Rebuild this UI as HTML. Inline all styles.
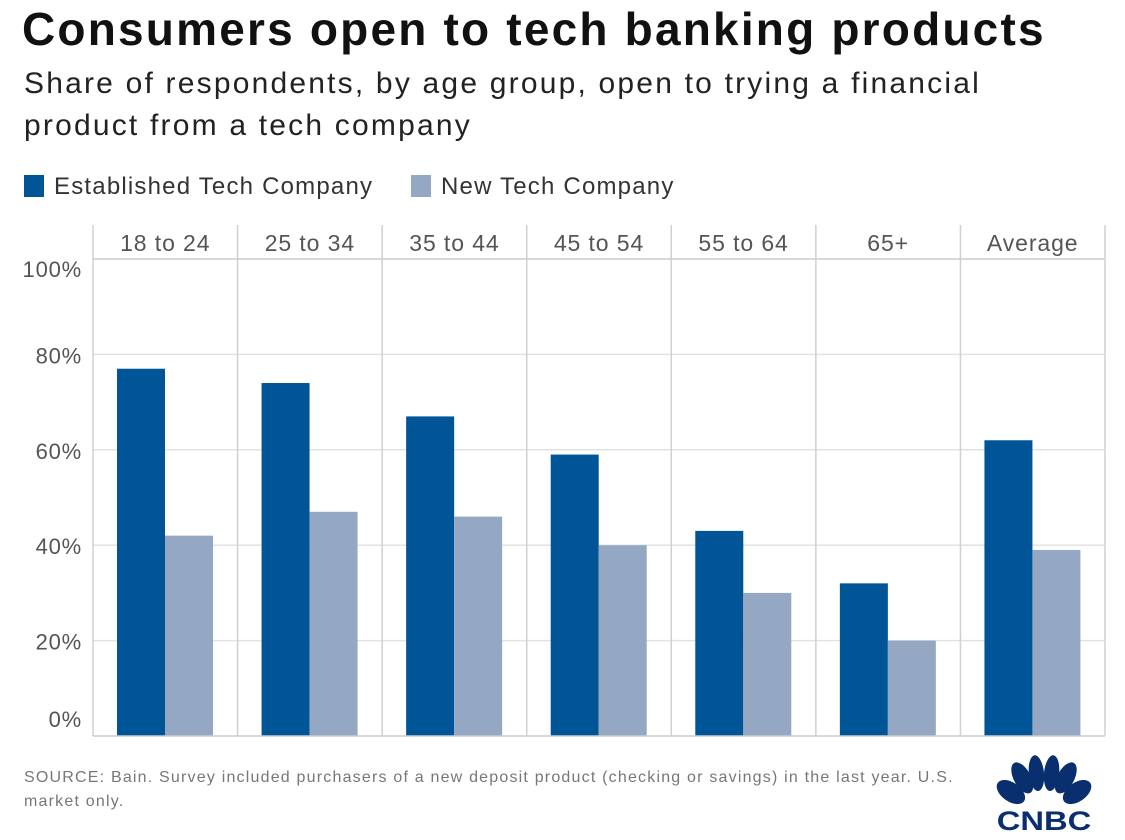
<!DOCTYPE html>
<html><head><meta charset="utf-8"><style>
body{margin:0;width:1125px;height:840px;background:#fff;font-family:"Liberation Sans",sans-serif;overflow:hidden;position:relative}
.t{position:absolute;white-space:nowrap}
</style></head><body>
<div class="t" style="left:22px;top:2px;font-size:46px;font-weight:bold;color:#111;letter-spacing:2.2px">Consumers open to tech banking products</div>
<div class="t" style="left:24px;top:63px;font-size:30px;color:#222;line-height:42px;letter-spacing:2.2px">Share of respondents, by age group, open to trying a financial<br>product from a tech company</div>
<div>
<div class="t" style="left:24px;top:173px;font-size:24px;color:#333;letter-spacing:1.2px"><span style="display:inline-block;width:20px;height:22px;background:#005596;vertical-align:-3px;margin-right:10px"></span>Established Tech Company</div>
<div class="t" style="left:411px;top:173px;font-size:24px;color:#333;letter-spacing:1.2px"><span style="display:inline-block;width:20px;height:22px;background:#94a8c4;vertical-align:-3px;margin-right:10px"></span>New Tech Company</div>
</div>
<svg id="chart" width="1125" height="840" style="position:absolute;left:0;top:0"></svg>
<div class="t" style="left:24px;top:766px;font-size:16px;color:#777;line-height:24px;letter-spacing:1.2px">SOURCE: Bain. Survey included purchasers of a new deposit product (checking or savings) in the last year. U.S.<br>market only.</div>
<svg width="104" height="82" style="position:absolute;left:992px;top:752px" viewBox="0 0 110 86">
<g fill="#0a2f6e">
<ellipse cx="20" cy="42" rx="17" ry="10" transform="rotate(35 20 42)"/>
<ellipse cx="32" cy="27" rx="18" ry="9" transform="rotate(62 32 27)"/>
<ellipse cx="47" cy="22" rx="19" ry="8" transform="rotate(84 47 22)"/>
<ellipse cx="63" cy="22" rx="19" ry="8" transform="rotate(96 63 22)"/>
<ellipse cx="78" cy="27" rx="18" ry="9" transform="rotate(118 78 27)"/>
<ellipse cx="90" cy="42" rx="17" ry="10" transform="rotate(145 90 42)"/>
</g>
<text x="55" y="82" text-anchor="middle" font-family="Liberation Sans" font-weight="bold" font-size="28" fill="#0a2f6e" textLength="100" lengthAdjust="spacingAndGlyphs">CNBC</text>
</svg>
<script>
const categories=["18 to 24","25 to 34","35 to 44","45 to 54","55 to 64","65+","Average"];
const established=[77,74,67,59,43,32,62];
const newTech=[42,47,46,40,30,20,39];
const yTicks=[0,20,40,60,80,100];
const svgEl=document.getElementById('chart');
const NS="http://www.w3.org/2000/svg";
const plotX0=93,plotX1=1105,headTop=225,plotY0=736,plotY100=259;
const colW=(plotX1-plotX0)/categories.length;
const yScale=v=>plotY0-(plotY0-plotY100)*v/100;
function mk(t,a){const e=document.createElementNS(NS,t);for(const k in a)e.setAttribute(k,a[k]);svgEl.appendChild(e);return e;}
yTicks.forEach(v=>{
 if(v>0&&v<100){const l=mk('line',{x1:plotX0,x2:plotX1,y1:yScale(v),y2:yScale(v),stroke:'#e2e2e2','stroke-width':1.5});
 
 }
 const off=v===100?18:(v===0?-9:9);
 const t=mk('text',{x:82,y:yScale(v)+off,'text-anchor':'end','font-size':22,fill:'#555','font-family':'Liberation Sans','letter-spacing':'0.8'});
 t.textContent=v+'%';
 
 
});
const hl=mk('line',{x1:plotX0,x2:plotX1,y1:plotY100,y2:plotY100,stroke:'#ccc','stroke-width':1.5});


categories.forEach((c,i)=>{
 const cx=plotX0+i*colW;
 const b1=mk('rect',{x:cx+24,y:yScale(established[i]),width:48,height:plotY0-yScale(established[i]),fill:'#005596'});
 
 
 const b2=mk('rect',{x:cx+72,y:yScale(newTech[i]),width:48,height:plotY0-yScale(newTech[i]),fill:'#94a8c4'});
 
 
 const t=mk('text',{x:cx+colW/2,y:251,'text-anchor':'middle','font-size':23,fill:'#555','font-family':'Liberation Sans','letter-spacing':'0.9'});
 t.textContent=c;
 
 
});
for(let i=0;i<=categories.length;i++){
 const l=mk('line',{x1:plotX0+i*colW,x2:plotX0+i*colW,y1:headTop,y2:plotY0,stroke:'#d0d0d0','stroke-width':1.5});
 
 
}
const bl=mk('line',{x1:plotX0,x2:plotX1,y1:plotY0,y2:plotY0,stroke:'#ccc','stroke-width':1.5});


</script>
</body></html>
